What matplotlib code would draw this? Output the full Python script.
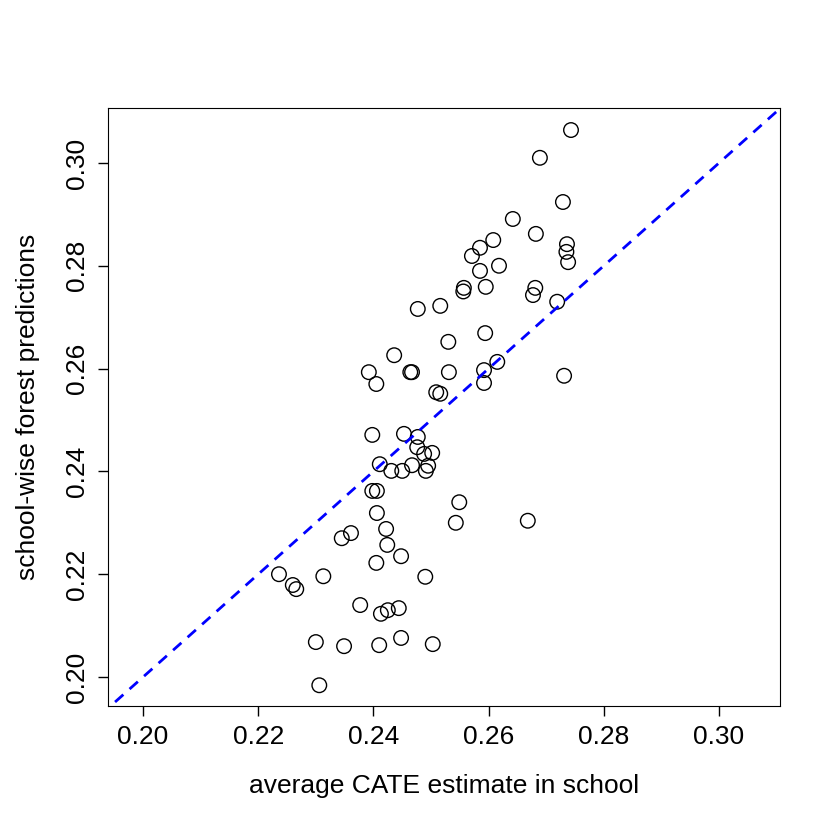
import matplotlib
matplotlib.use("Agg")
import matplotlib.pyplot as plt

plt.rcParams['font.family'] = ['Liberation Sans', 'DejaVu Sans']

# average CATE estimate in school (x) vs school-wise forest prediction (y)
cate_avg = [0.2743, 0.2689, 0.2729, 0.2642, 0.2682, 0.2608, 0.2736, 0.2585, 0.2735, 0.2738,
            0.2571, 0.2618, 0.2681, 0.2557, 0.2556, 0.2585, 0.2595, 0.2677, 0.2477, 0.2516,
            0.2719, 0.2594, 0.2530, 0.2436, 0.2464, 0.2467, 0.2392, 0.2405, 0.2592, 0.2731,
            0.2531, 0.2615, 0.2592, 0.2509, 0.2516, 0.2453, 0.2398, 0.2477, 0.2502, 0.2476,
            0.2411, 0.2467, 0.2488, 0.2495, 0.2450, 0.2431, 0.2491, 0.2398, 0.2406, 0.2549,
            0.2543, 0.2668, 0.2406, 0.2422, 0.2361, 0.2345, 0.2424, 0.2448, 0.2490, 0.2405,
            0.2236, 0.2313, 0.2260, 0.2266, 0.2377, 0.2413, 0.2425, 0.2444, 0.2300, 0.2349,
            0.2410, 0.2448, 0.2503, 0.2306]
forest_pred = [0.3064, 0.3010, 0.2924, 0.2891, 0.2862, 0.2850, 0.2842, 0.2835, 0.2827, 0.2807,
               0.2819, 0.2800, 0.2757, 0.2757, 0.2750, 0.2790, 0.2759, 0.2743, 0.2716, 0.2722,
               0.2730, 0.2669, 0.2652, 0.2626, 0.2593, 0.2593, 0.2593, 0.2570, 0.2597, 0.2586,
               0.2593, 0.2613, 0.2572, 0.2554, 0.2551, 0.2473, 0.2471, 0.2467, 0.2436, 0.2447,
               0.2414, 0.2412, 0.2434, 0.2411, 0.2401, 0.2401, 0.2401, 0.2362, 0.2362, 0.2340,
               0.2300, 0.2304, 0.2319, 0.2288, 0.2280, 0.2270, 0.2257, 0.2235, 0.2195, 0.2222,
               0.2200, 0.2196, 0.2179, 0.2171, 0.2140, 0.2123, 0.2130, 0.2134, 0.2068, 0.2060,
               0.2062, 0.2076, 0.2064, 0.1984]
ticks = [0.20, 0.22, 0.24, 0.26, 0.28, 0.30]

fig = plt.figure(figsize=(8.4, 8.4), dpi=100)
ax = fig.add_axes([0.1286, 0.1595, 0.8, 0.712])

ax.scatter(cate_avg, forest_pred, s=110, facecolors='none', edgecolors='black', linewidths=1)
ax.plot([0, 1], [0, 1], color='blue', linestyle=(0, (4, 3)), linewidth=2)

ax.set_xlim(0.19392, 0.31059)
ax.set_ylim(0.19436, 0.3107)
ax.set_xticks(ticks)
ax.set_yticks(ticks)
ax.set_xticklabels([f"{t:.2f}" for t in ticks], fontsize=19)
ax.set_yticklabels([f"{t:.2f}" for t in ticks], fontsize=19, rotation=90, va='center')
ax.tick_params(length=7, width=1, pad=7)
ax.set_xlabel("average CATE estimate in school", fontsize=19, labelpad=18)
ax.set_ylabel("school-wise forest predictions", fontsize=19, labelpad=18)

fig.savefig("out.png", dpi=100)
